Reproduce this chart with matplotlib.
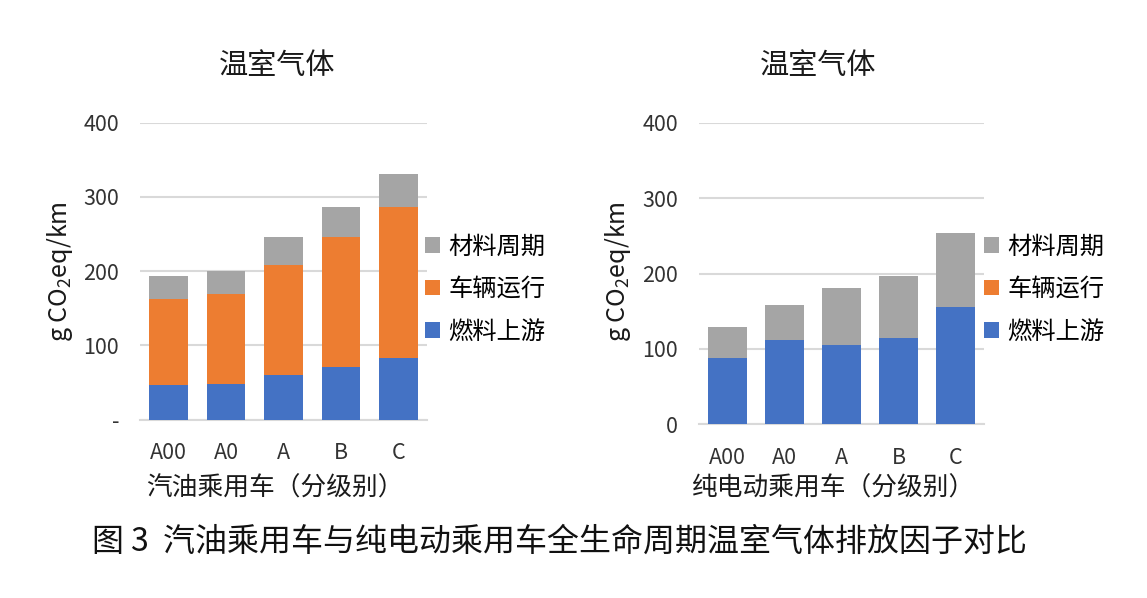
import matplotlib
matplotlib.use('Agg')
import matplotlib.pyplot as plt
import numpy as np

plt.rcParams['font.family'] = ['Noto Sans CJK SC', 'DejaVu Sans']
plt.rcParams['mathtext.default'] = 'regular'

# data (g CO2eq/km)
classes = ['A00', 'A0', 'A', 'B', 'C']
series_names = ['燃料上游', '车辆运行', '材料周期']
colors = ['#4472C4', '#ED7D31', '#A5A5A5']

gas_upstream = [47, 48.5, 60, 71, 83]
gas_operation = [116, 121, 148, 175, 204]
gas_material = [31, 31, 38, 41, 44]

ev_upstream = [88, 112, 105, 115, 156]
ev_operation = [0, 0, 0, 0, 0]
ev_material = [41, 46, 76, 82, 98]

W, H = 1147, 598
fig = plt.figure(figsize=(W / 100, H / 100), dpi=100)


def px(x, y):
    return x / W, 1 - y / H


def draw(rect, data, zero_label, legend_xy):
    ax = fig.add_axes(rect)
    x = np.arange(len(classes))
    bottom = np.zeros(len(classes))
    handles = []
    for vals, name, c in zip(data, series_names, colors):
        b = ax.bar(x, vals, width=0.67, bottom=bottom, color=c, label=name, zorder=3)
        bottom += np.array(vals)
        handles.append(b)
    ax.set_xlim(-0.5, len(classes) - 0.5)
    ax.set_ylim(0, 400)
    ax.set_yticks([0, 100, 200, 300, 400])
    ax.set_yticklabels([zero_label, '100', '200', '300', '400'])
    ax.set_xticks(x)
    ax.set_xticklabels(classes)
    ax.tick_params(length=0, labelsize=15.5, colors='#333333')
    ax.tick_params(axis='x', pad=16)
    ax.tick_params(axis='y', pad=15)
    ax.grid(axis='y', color='#D9D9D9', linewidth=1.5, zorder=0)
    for s in ['top', 'right', 'left']:
        ax.spines[s].set_visible(False)
    ax.spines['bottom'].set_color('#D9D9D9')
    ax.spines['bottom'].set_linewidth(1.5)
    ax.legend(handles[::-1], series_names[::-1], loc='center left',
              bbox_to_anchor=legend_xy, bbox_transform=fig.transFigure,
              frameon=False, fontsize=17.5, handlelength=0.62, handleheight=0.62,
              handletextpad=0.35, labelspacing=0.68, borderpad=0, borderaxespad=0)
    return ax


draw([140 / W, 1 - 419.7 / H, 287 / W, 297 / H],
     [gas_upstream, gas_operation, gas_material], '-', px(425, 289))
draw([699 / W, 1 - 424.3 / H, 285 / W, 301.6 / H],
     [ev_upstream, ev_operation, ev_material], '0', px(984, 289))

fig.text(*px(277, 66), '温室气体', ha='center', va='center', fontsize=21, color='#1a1a1a')
fig.text(*px(818, 66), '温室气体', ha='center', va='center', fontsize=21, color='#1a1a1a')

fig.text(*px(60, 272), 'g CO$_2$eq/km', rotation=90, ha='center', va='center',
         fontsize=18, color='#1a1a1a')
fig.text(*px(618, 272), 'g CO$_2$eq/km', rotation=90, ha='center', va='center',
         fontsize=18, color='#1a1a1a')

fig.text(*px(275, 489), '汽油乘用车（分级别）', ha='center', va='center', fontsize=18.5, color='#1a1a1a')
fig.text(*px(834, 489), '纯电动乘用车（分级别）', ha='center', va='center', fontsize=18.5, color='#1a1a1a')

fig.text(*px(560, 542), '图 3  汽油乘用车与纯电动乘用车全生命周期温室气体排放因子对比',
         ha='center', va='center', fontsize=23, color='#111111')

fig.savefig('out.png', dpi=100)
